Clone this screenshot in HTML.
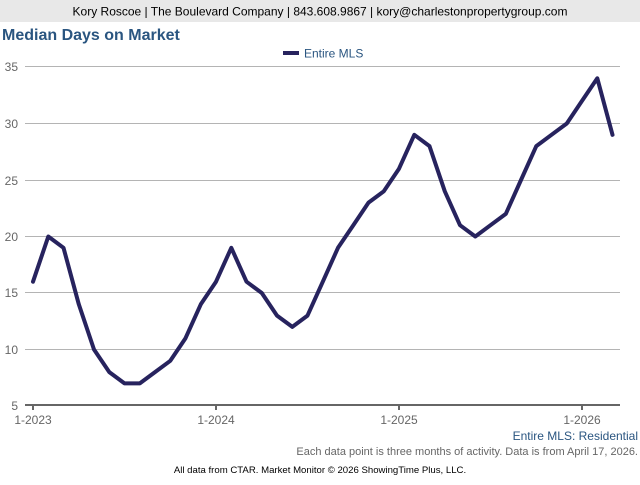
<!DOCTYPE html>
<html><head><style>
body{margin:0;width:640px;height:480px;background:#fff;overflow:hidden;font-family:"Liberation Sans",Arial,sans-serif;}
</style></head><body>
<svg width="640" height="480" xmlns="http://www.w3.org/2000/svg" font-family="Liberation Sans, Arial, sans-serif">
<rect x="0" y="0" width="640" height="22" fill="#e8e8e8"/>
<text x="320" y="15.5" text-anchor="middle" font-size="12" fill="#000">Kory Roscoe | The Boulevard Company | 843.608.9867 | kory@charlestonpropertygroup.com</text>
<text x="2" y="40" font-size="16" font-weight="bold" fill="#2a5580">Median Days on Market</text>
<line x1="283" y1="53" x2="299" y2="53" stroke="#27235e" stroke-width="4"/>
<text x="304" y="57.5" font-size="12" fill="#2a5580">Entire MLS</text>
<g stroke="#b4b4b4" stroke-width="1">
<line x1="25" y1="66.5" x2="620" y2="66.5"/>
<line x1="25" y1="123.5" x2="620" y2="123.5"/>
<line x1="25" y1="180.5" x2="620" y2="180.5"/>
<line x1="25" y1="236.5" x2="620" y2="236.5"/>
<line x1="25" y1="292.5" x2="620" y2="292.5"/>
<line x1="25" y1="349.5" x2="620" y2="349.5"/>
</g>
<line x1="25" y1="405" x2="620" y2="405" stroke="#666" stroke-width="2"/>
<g stroke="#666" stroke-width="2">
<line x1="33" y1="405" x2="33" y2="410"/><line x1="216" y1="405" x2="216" y2="410"/>
<line x1="399" y1="405" x2="399" y2="410"/><line x1="582" y1="405" x2="582" y2="410"/>
</g>
<g font-size="12" fill="#666" text-anchor="end">
<text x="18" y="71">35</text><text x="18" y="128">30</text><text x="18" y="185">25</text>
<text x="18" y="241">20</text><text x="18" y="297">15</text><text x="18" y="354">10</text><text x="18" y="410">5</text>
</g>
<g font-size="12" fill="#666" text-anchor="middle">
<text x="33" y="424">1-2023</text><text x="216" y="424">1-2024</text>
<text x="399" y="424">1-2025</text><text x="582" y="424">1-2026</text>
</g>
<polyline fill="none" stroke="#27235e" stroke-width="4" stroke-linejoin="round" stroke-linecap="round" points="33.0,281.7 48.3,236.5 63.5,247.8 78.8,304.3 94.0,349.5 109.3,372.1 124.5,383.4 139.8,383.4 155.0,372.1 170.3,360.8 185.5,338.2 200.8,304.3 216.0,281.7 231.3,247.8 246.5,281.7 261.8,293.0 277.0,315.6 292.3,326.9 307.5,315.6 322.8,281.7 338.0,247.8 353.3,225.2 368.5,202.6 383.8,191.3 399.0,168.7 414.3,134.8 429.5,146.1 444.8,191.3 460.0,225.2 475.3,236.5 490.5,225.2 505.8,213.9 521.0,180.0 536.3,146.1 551.5,134.8 566.8,123.5 582.0,100.9 597.3,78.3 612.5,134.8"/>
<text x="638" y="440" text-anchor="end" font-size="12" fill="#2a5580">Entire MLS: Residential</text>
<text x="638" y="455" text-anchor="end" font-size="11" fill="#666">Each data point is three months of activity. Data is from April 17, 2026.</text>
<text x="320" y="473" text-anchor="middle" font-size="9.6" fill="#000">All data from CTAR. Market Monitor © 2026 ShowingTime Plus, LLC.</text>
</svg>
</body></html>
